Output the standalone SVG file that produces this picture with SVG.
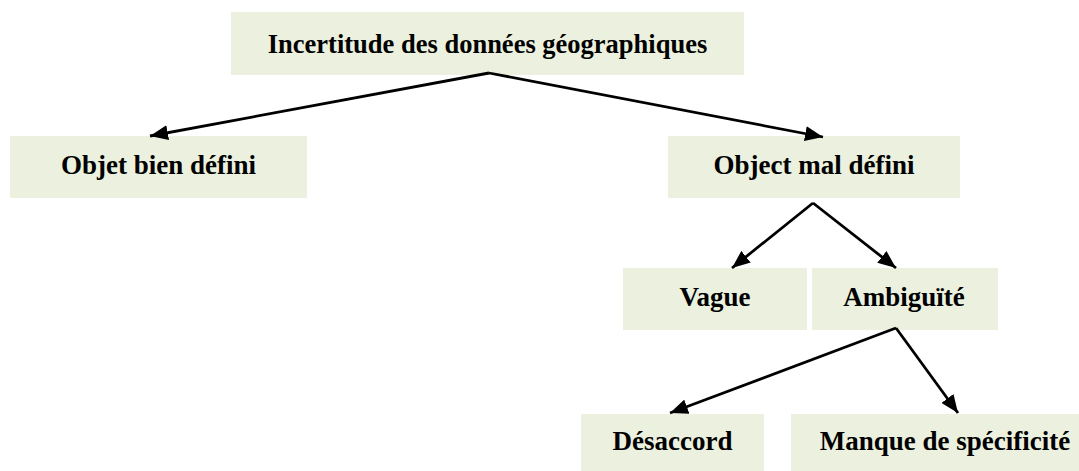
<svg xmlns="http://www.w3.org/2000/svg" width="1079" height="471" viewBox="0 0 1079 471">
<defs>
<style>
.box{fill:#EBF1DE;stroke:none}
.lbl{font-family:"Liberation Serif","Times New Roman",serif;font-weight:bold;font-size:27px;fill:#000;text-anchor:middle}
.con{stroke:#000;stroke-width:2.8;fill:none;marker-end:url(#ah)}
</style>
<marker id="ah" markerUnits="userSpaceOnUse" viewBox="0 0 18 15" markerWidth="18" markerHeight="15" refX="18" refY="7.5" orient="auto">
<path d="M0,0 L18,7.5 L0,15 Z" fill="#000"/>
</marker>
</defs>
<rect width="1079" height="471" fill="#fff"/>
<g id="n-root"><rect class="box" x="231" y="12" width="513" height="63"/><text class="lbl" x="487.5" y="53" style="font-size:26.5px">Incertitude des données géographiques</text></g>
<g id="n-bien"><rect class="box" x="10" y="136" width="297" height="62"/><text class="lbl" x="158.5" y="174">Objet bien défini</text></g>
<g id="n-mal"><rect class="box" x="668" y="136" width="292" height="62"/><text class="lbl" x="814" y="174">Object mal défini</text></g>
<g id="n-vague"><rect class="box" x="623" y="268" width="184" height="62"/><text class="lbl" x="715" y="306">Vague</text></g>
<g id="n-ambig"><rect class="box" x="812" y="268" width="186" height="62"/><text class="lbl" x="904" y="306">Ambiguïté</text></g>
<g id="n-desac"><rect class="box" x="581" y="414" width="183" height="57"/><text class="lbl" x="672.5" y="450">Désaccord</text></g>
<g id="n-manque"><rect class="box" x="791" y="414" width="288" height="57"/><text class="lbl" x="945" y="450">Manque de spécificité</text></g>
<g id="connectors">
<line class="con" x1="489" y1="73" x2="150" y2="136"/>
<line class="con" x1="489" y1="73" x2="823" y2="137"/>
<line class="con" x1="813" y1="203" x2="732" y2="268"/>
<line class="con" x1="813" y1="203" x2="896" y2="268"/>
<line class="con" x1="896" y1="328" x2="670" y2="413"/>
<line class="con" x1="896" y1="328" x2="958" y2="413"/>
</g>
</svg>
